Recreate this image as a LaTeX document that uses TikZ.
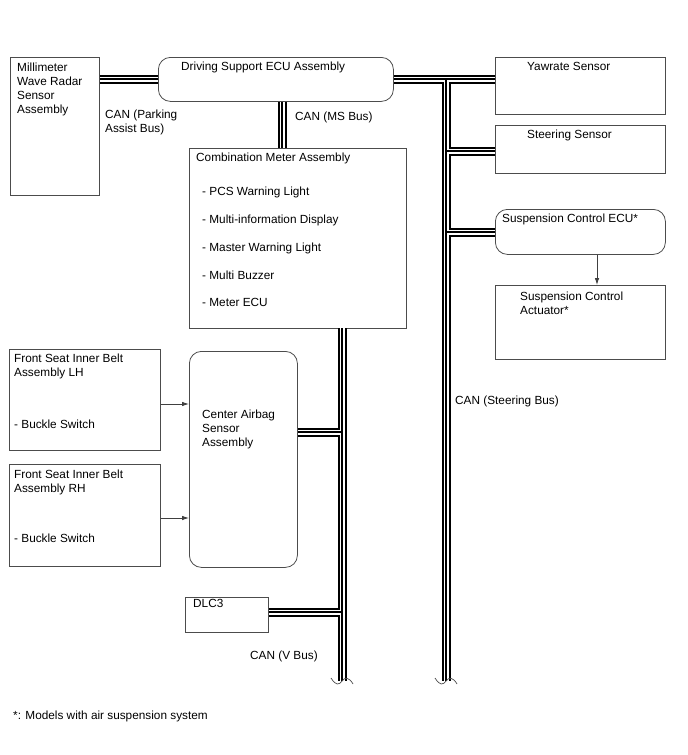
\documentclass[tikz,border=0pt]{standalone}
\usepackage{fontspec}
\setmainfont{Liberation Sans}
\usetikzlibrary{arrows.meta}
\begin{document}
\begin{tikzpicture}[x=1pt,y=-1pt,
  font=\fontsize{11.8}{14}\selectfont,
  box/.style={draw=black!70, line width=0.8pt, anchor=north west, inner sep=0pt, fill=none},
  rbox/.style={box, rounded corners=12pt},
  txt/.style={anchor=north west, inner sep=0pt, align=left, text=black},
  arr/.style={draw=black!75, line width=0.8pt, -{Latex[length=7pt,width=4.5pt]}},
  brk/.style={draw=black!70, line width=0.7pt}]
\useasboundingbox (0,0) rectangle (688,755);

% boxes
\node[box, minimum width=89pt, minimum height=138pt] (radar) at (10,57) {};
\node[rbox, minimum width=235pt, minimum height=44pt] (ecu) at (158,57) {};
\node[box, minimum width=217pt, minimum height=180pt] (meter) at (189,148) {};
\node[box, minimum width=170pt, minimum height=57pt] (yaw) at (495,57) {};
\node[box, minimum width=170pt, minimum height=48pt] (steer) at (495,125) {};
\node[rbox, minimum width=170pt, minimum height=45pt] (secu) at (495,209) {};
\node[box, minimum width=170pt, minimum height=74pt] (act) at (495,285) {};
\node[rbox, minimum width=108pt, minimum height=216pt] (airbag) at (189,351) {};
\node[box, minimum width=151pt, minimum height=101pt] (lh) at (9,349) {};
\node[box, minimum width=151pt, minimum height=102pt] (rh) at (9,464) {};
\node[box, minimum width=83pt, minimum height=35pt] (dlc) at (185,597) {};

% texts
\node[txt] (tradar) at (17,62.5) {Millimeter\\Wave Radar\\Sensor\\Assembly};
\node[txt] (tecu) at (181,61.5) {Driving Support ECU Assembly};
\node[txt] (tpab) at (105,109.5) {CAN (Parking\\Assist Bus)};
\node[txt] (tms) at (295,111.5) {CAN (MS Bus)};
\node[txt] (tmeter) at (196,152.5) {Combination Meter Assembly};
\node[txt] (tm1) at (202,186.5) {- PCS Warning Light};
\node[txt] (tm2) at (202,214.5) {- Multi-information Display};
\node[txt] (tm3) at (202,242.5) {- Master Warning Light};
\node[txt] (tm4) at (202,270.5) {- Multi Buzzer};
\node[txt] (tm5) at (202,298.5) {- Meter ECU};
\node[txt] (tyaw) at (527,62.5) {Yawrate Sensor};
\node[txt] (tsteer) at (527,129.5) {Steering Sensor};
\node[txt] (tsecu) at (502,213.5) {Suspension Control ECU*};
\node[txt] (tact) at (520,291.5) {Suspension Control\\Actuator*};
\node[txt] (tsb) at (455,395.5) {CAN (Steering Bus)};
\node[txt] (tair) at (202,409.5) {Center Airbag\\Sensor\\Assembly};
\node[txt] (tlh) at (14,353.5) {Front Seat Inner Belt\\Assembly LH};
\node[txt] (tlhb) at (14,419.5) {- Buckle Switch};
\node[txt] (trh) at (14,469.5) {Front Seat Inner Belt\\Assembly RH};
\node[txt] (trhb) at (14,533.5) {- Buckle Switch};
\node[txt] (tdlc) at (193,599.5) {DLC3};
\node[txt] (tvb) at (250,650.5) {CAN (V Bus)};
\node[txt] (tnote) at (13,710.5) {*: Models with air suspension system};

% bus junction coordinates
\coordinate (sTop) at (446,79);
\coordinate (sEnd) at (446,681);
\coordinate (vTop) at (342,328);
\coordinate (vEnd) at (342,681);

% CAN buses (three layers)
\foreach \w/\c in {9/black, 5/white, 2/black} {
  \draw[line width=\w pt, \c, line cap=butt, line join=miter]
    (radar.east |- sTop) -- (ecu.west |- sTop)
    (ecu.east |- sTop) -- (yaw.west |- sTop)
    (sTop) -- (sEnd)
    (sTop |- 0,151) -- (steer.west |- 0,151)
    (sTop |- 0,232) -- (secu.west |- 0,232)
    (ecu.south -| 282,0) -- (meter.north -| 282,0)
    (vTop) -- (vEnd)
    (airbag.east |- 0,432) -- (vTop |- 0,432)
    (dlc.east |- 0,612) -- (vTop |- 0,612);
}

% break marks
\foreach \p in {sEnd, vEnd} {
  \draw[brk] ([xshift=-11pt,yshift=3pt]\p) .. controls ([xshift=-6pt,yshift=-5pt]\p) and ([xshift=-3pt,yshift=-4pt]\p) .. (\p)
     .. controls ([xshift=3pt,yshift=4pt]\p) and ([xshift=7pt,yshift=4pt]\p) .. ([xshift=11pt,yshift=-3pt]\p);
}

% arrows
\draw[arr] (secu.south -| 597,0) -- (act.north -| 597,0);
\draw[arr] (lh.east |- 0,404) -- (airbag.west |- 0,404);
\draw[arr] (rh.east |- 0,518) -- (airbag.west |- 0,518);
\end{tikzpicture}
\end{document}
